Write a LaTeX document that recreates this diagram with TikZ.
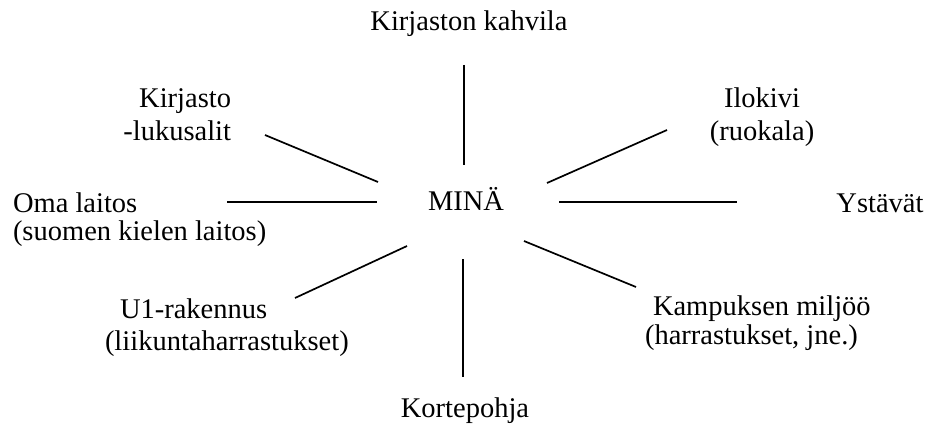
\documentclass[tikz,border=0pt]{standalone}
\usepackage{fontspec}
\setmainfont{Liberation Serif}
\begin{document}
\begin{tikzpicture}[x=1pt,y=-1pt,
  lbl/.style={inner sep=0pt,outer sep=0pt,font=\fontsize{28.5}{31}\selectfont},
  spoke/.style={line width=1.7pt,black}]
\useasboundingbox (0,0) rectangle (939,428);
\fill[white] (0,0) rectangle (939,428);
% labels (multi-line nodes: base anchor = baseline of last line)
\node[lbl,anchor=base] (kahvila) at (469,31) {Kirjaston kahvila};
\node[lbl,anchor=base east,align=right,font=\fontsize{28.5}{33}\selectfont] (kirjasto) at (231,140) {Kirjasto\\-lukusalit};
\node[lbl,anchor=base west,align=left,font=\fontsize{28.5}{28}\selectfont] (oma) at (13,240) {Oma laitos\\(suomen kielen laitos)};
\node[lbl,anchor=base] (mina) at (466,210) {MINÄ};
\node[lbl,anchor=base,align=center,font=\fontsize{28.5}{33}\selectfont] (ilokivi) at (762,140) {Ilokivi\\(ruokala)};
\node[lbl,anchor=base] (ystavat) at (880,212) {Ystävät};
\node[lbl,anchor=base west,align=left,font=\fontsize{28.5}{32}\selectfont] (u1) at (105,350) {\hspace*{15pt}U1-rakennus\\(liikuntaharrastukset)};
\node[lbl,anchor=base west,align=left,font=\fontsize{28.5}{29}\selectfont] (kampus) at (645,344) {\hspace*{8pt}Kampuksen miljöö\\(harrastukset, jne.)};
\node[lbl,anchor=base] (korte) at (465,417) {Kortepohja};
% spoke end points
\coordinate (t1) at (464,65);  \coordinate (t2) at (464,165);
\coordinate (k1) at (265,135); \coordinate (k2) at (378,182);
\coordinate (o1) at (227,202); \coordinate (o2) at (377,202);
\coordinate (i1) at (547,183); \coordinate (i2) at (667,130);
\coordinate (y1) at (559,202); \coordinate (y2) at (737,202);
\coordinate (u1a) at (295,298); \coordinate (u1b) at (407,246);
\coordinate (b1) at (463,259); \coordinate (b2) at (463,377);
\coordinate (c1) at (524,241); \coordinate (c2) at (636,287);
% spokes
\draw[spoke] (t1) -- (t2);
\draw[spoke] (k1) -- (k2);
\draw[spoke] (o1) -- (o2);
\draw[spoke] (i1) -- (i2);
\draw[spoke] (y1) -- (y2);
\draw[spoke] (u1a) -- (u1b);
\draw[spoke] (b1) -- (b2);
\draw[spoke] (c1) -- (c2);
\end{tikzpicture}
\end{document}
